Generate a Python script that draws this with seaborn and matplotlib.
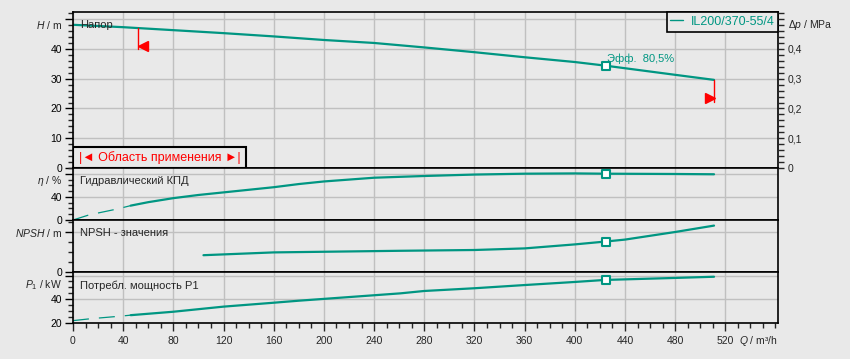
import matplotlib
matplotlib.use("Agg")
import matplotlib.pyplot as plt
import matplotlib.transforms as mtransforms
import numpy as np
import pandas as pd
import seaborn as sns
from matplotlib.patches import Rectangle
from matplotlib.ticker import MultipleLocator, FixedLocator, FuncFormatter

# curves, Q in m3/h
q_head = [0, 40, 80, 120, 160, 200, 240, 280, 320, 360, 400, 424, 480, 511]
head = [48.1, 47.3, 46.3, 45.3, 44.2, 43.0, 42.0, 40.5, 38.9, 37.2, 35.6, 34.4, 31.3, 29.6]

q_eff = [0, 13, 35, 46, 60, 80, 100, 120, 160, 180, 200, 240, 280, 320, 360, 400, 424, 480, 511]
eff = [0, 9, 19, 25, 31, 38, 43.5, 48, 57, 62.5, 67, 73.5, 76.5, 79, 80.5, 81, 80.5, 80, 79.5]

q_npsh = [104, 160, 260, 320, 360, 400, 424, 440, 480, 511]
npsh = [4.2, 4.9, 5.3, 5.5, 5.9, 6.9, 7.6, 8.1, 10.0, 11.6]

q_p1 = [0, 14, 37, 46, 80, 120, 160, 180, 261, 280, 320, 360, 400, 424, 480, 511]
p1 = [22, 23.6, 25.7, 26.6, 29.5, 33.8, 37.1, 38.8, 45, 47, 49.3, 52, 54.6, 56.3, 58, 59]

# duty point
q_op = 425
h_op, eff_op, npsh_op, p1_op = 34.4, 80.5, 7.6, 56.3

# application range (Q min / Q max)
q_min, q_max = 52, 511
h_min_low, h_max_low = 39.9, 22.1
q_dash = 46  # efficiency and power drawn dashed below this flow
pump = "IL200/370-55/4"

teal = "#009682"
bg = "#e9e9e9"
red = "#ff0000"
gridc = "#c0c0c0"

sns.set_style("ticks", {"axes.facecolor": bg, "figure.facecolor": bg,
                        "axes.edgecolor": "black", "axes.grid": True,
                        "grid.color": gridc})
plt.rcParams["font.family"] = ["Liberation Sans", "DejaVu Sans"]
plt.rcParams["mathtext.fontset"] = "custom"
plt.rcParams["mathtext.it"] = "Liberation Sans:italic"
plt.rcParams["mathtext.rm"] = "Liberation Sans"

W, H = 850, 359
left, right = 73, 778
rows = [(12, 168), (168, 220), (220, 272), (272, 323)]
fig = plt.figure(figsize=(8.5, 3.59), dpi=100)
axs = [fig.add_axes([left / W, 1 - b / H, (right - left) / W, (b - t) / H]) for t, b in rows]

for ax in axs:
    ax.set_xlim(0, 562)
    ax.xaxis.set_major_locator(FixedLocator(np.arange(0, 521, 40)))
    ax.xaxis.set_minor_locator(MultipleLocator(10))
    ax.grid(True, which="major", color=gridc, lw=1.0)
    ax.grid(False, which="minor")
    ax.set_axisbelow(True)
    for s in ax.spines.values():
        s.set_visible(True)
        s.set_color("black")
        s.set_linewidth(1.2)
    ax.tick_params(axis="y", which="major", direction="out", length=6, width=1,
                   pad=2, labelsize=7.5, left=True, colors="black")
    ax.tick_params(axis="y", which="minor", direction="out", length=3.5, width=1, left=True)
    ax.tick_params(axis="x", which="both", bottom=False, labelbottom=False)

mk = dict(marker="s", s=30, color="white", edgecolor=teal, linewidth=1.5, zorder=5)

# --- head ---
ax = axs[0]
sns.lineplot(x=q_head, y=head, ax=ax, color=teal, lw=1.6, label=pump)
sns.scatterplot(x=[q_op], y=[h_op], ax=ax, **mk)
ax.set_ylim(0, 52.4)
ax.yaxis.set_major_locator(FixedLocator([0, 10, 20, 30, 40, 50]))
ax.yaxis.set_major_formatter(FuncFormatter(lambda v, p: "" if v > 45 else f"{v:.0f}"))
ax.yaxis.set_minor_locator(MultipleLocator(2))
ax.text(q_op + 1, h_op + 2.2, "Эфф.  80,5%", color=teal, fontsize=8, va="center", ha="left")

# application range flags
hq_min = np.interp(q_min, q_head, head)
hq_max = np.interp(q_max, q_head, head)
ax.plot([q_min, q_min], [hq_min, h_min_low], color=red, lw=1)
ax.plot([q_max, q_max], [hq_max, h_max_low], color=red, lw=1)
off_l = mtransforms.ScaledTranslation(3.2 / 72, 0, fig.dpi_scale_trans)
off_r = mtransforms.ScaledTranslation(-3.2 / 72, 0, fig.dpi_scale_trans)
ax.plot([q_min], [h_min_low + 1.0], marker="<", ms=6.5, color=red, transform=ax.transData + off_l)
ax.plot([q_max], [h_max_low + 1.3], marker=">", ms=6.5, color=red, transform=ax.transData + off_r)

ax.add_patch(Rectangle((0, 0), 0.2454, 0.1346, transform=ax.transAxes, fc=bg,
                       ec="black", lw=1.5, zorder=4))
ax.text(0.1227, 0.067, "|◄ Область применения ►|", transform=ax.transAxes, color=red,
        fontsize=9, ha="center", va="center", zorder=5)

leg = ax.legend(loc="upper right", borderaxespad=0, frameon=True, fancybox=False,
                edgecolor="black", facecolor=bg, framealpha=1, handlelength=1.0,
                handletextpad=0.6, borderpad=0.3, fontsize=9, labelcolor=teal)
leg.get_frame().set_linewidth(1.2)
leg.get_lines()[0].set_linewidth(1.0)

ax.text(-11 / 705, 1 - 13 / 156, "$H$ / m", transform=ax.transAxes, ha="right",
        va="center", fontsize=7.5)
ax.text(7 / 705, 1 - 13 / 156, "Напор", transform=ax.transAxes, ha="left",
        va="center", fontsize=8)

# right pressure axis
axr = ax.twinx()
axr.set_ylim(0, 0.524)
axr.grid(False)
axr.yaxis.set_major_locator(FixedLocator([0, 0.1, 0.2, 0.3, 0.4]))
axr.yaxis.set_major_formatter(FuncFormatter(lambda v, p: f"{v:.1f}".replace(".", ",") if v > 0 else "0"))
axr.yaxis.set_minor_locator(MultipleLocator(0.02))
axr.tick_params(axis="y", which="both", direction="out", length=4, width=1, pad=3,
                labelsize=7.5, right=True)
for s in axr.spines.values():
    s.set_visible(False)
ax.text(1 + 10 / 705, 1 - 13 / 156, "$\\Delta p$ / MPa", transform=ax.transAxes,
        ha="left", va="center", fontsize=7.5)

# --- efficiency ---
ax = axs[1]
eff_df = pd.DataFrame({"q": q_eff, "eff": eff})
sns.lineplot(data=eff_df[eff_df.q <= q_dash], x="q", y="eff", ax=ax, color=teal, lw=0.9,
             linestyle=(0, (12.8, 8)))
sns.lineplot(data=eff_df[eff_df.q >= q_dash], x="q", y="eff", ax=ax, color=teal, lw=1.6)
sns.scatterplot(x=[q_op], y=[eff_op], ax=ax, **mk)
ax.set_ylim(0, 90.4)
ax.yaxis.set_major_locator(FixedLocator([0, 40, 80]))
ax.yaxis.set_major_formatter(FuncFormatter(lambda v, p: "" if v > 60 else f"{v:.0f}"))
ax.yaxis.set_minor_locator(MultipleLocator(10))
ax.text(-11 / 705, 1 - 13 / 52, "$\\eta$ / %", transform=ax.transAxes, ha="right",
        va="center", fontsize=7.5)
ax.text(7 / 705, 1 - 13 / 52, "Гидравлический КПД", transform=ax.transAxes, ha="left",
        va="center", fontsize=8)

# --- NPSH ---
ax = axs[2]
sns.lineplot(x=q_npsh, y=npsh, ax=ax, color=teal, lw=1.6)
sns.scatterplot(x=[q_op], y=[npsh_op], ax=ax, **mk)
ax.set_ylim(0, 13.0)
ax.yaxis.set_major_locator(FixedLocator([0, 10]))
ax.yaxis.set_major_formatter(FuncFormatter(lambda v, p: "" if v > 5 else "0"))
ax.yaxis.set_minor_locator(MultipleLocator(2.5))
ax.text(-11 / 705, 1 - 13 / 52, "$NPSH$ / m", transform=ax.transAxes, ha="right",
        va="center", fontsize=7.5)
ax.text(7 / 705, 1 - 13 / 52, "NPSH - значения", transform=ax.transAxes, ha="left",
        va="center", fontsize=8)

# --- power ---
ax = axs[3]
p1_df = pd.DataFrame({"q": q_p1, "p1": p1})
sns.lineplot(data=p1_df[p1_df.q <= q_dash], x="q", y="p1", ax=ax, color=teal, lw=0.9,
             linestyle=(0, (12.8, 8)))
sns.lineplot(data=p1_df[p1_df.q >= q_dash], x="q", y="p1", ax=ax, color=teal, lw=1.6)
sns.scatterplot(x=[q_op], y=[p1_op], ax=ax, **mk)
ax.set_ylim(20, 63)
ax.yaxis.set_major_locator(FixedLocator([20, 40, 60]))
ax.yaxis.set_major_formatter(FuncFormatter(lambda v, p: "" if v > 50 else f"{v:.0f}"))
ax.yaxis.set_minor_locator(MultipleLocator(5))
ax.text(-11 / 705, 1 - 13.5 / 51, "$P_1$ / kW", transform=ax.transAxes, ha="right",
        va="center", fontsize=7.5)
ax.text(7 / 705, 1 - 13.5 / 51, "Потребл. мощность P1", transform=ax.transAxes, ha="left",
        va="center", fontsize=8)
ax.tick_params(axis="x", which="major", bottom=True, labelbottom=True, direction="out",
               length=6, width=1, pad=3, labelsize=7.5)
ax.tick_params(axis="x", which="minor", bottom=True, direction="out", length=3.5, width=1)
ax.text((739 - 73) / 705, -0.35, "$Q$ / m³/h", transform=ax.transAxes, ha="left",
        va="center", fontsize=7.5)

for a in axs:
    a.set_xlabel("")
    a.set_ylabel("")
for a in axs[1:]:
    if a.get_legend() is not None:
        a.get_legend().remove()

fig.savefig("out.png", dpi=100, facecolor=bg)
